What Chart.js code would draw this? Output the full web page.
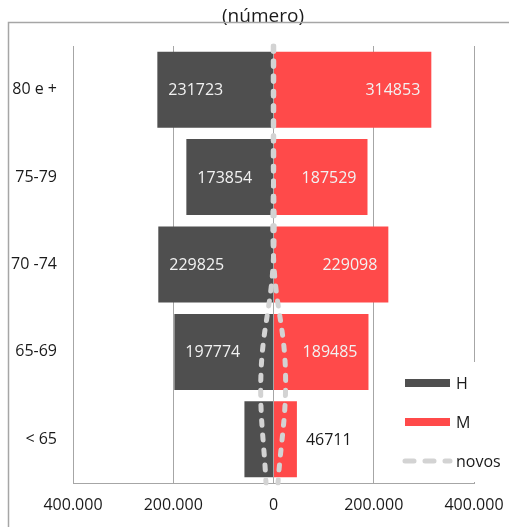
<!DOCTYPE html>
<html>
<head>
<meta charset="utf-8">
<script src="https://cdn.jsdelivr.net/npm/chart.js@4.4.1/dist/chart.umd.min.js"></script>
<style>
  html, body { margin: 0; padding: 0; background: #fff; overflow: hidden; }
  canvas { display: block; }
</style>
</head>
<body>
<canvas id="piramide" width="509" height="527"></canvas>
<script>
// Faixas etárias (de cima para baixo)
const ageGroups = ['80 e +', '75-79', '70 -74', '65-69', '< 65'];
// Homens (lado esquerdo, valores negativos) e mulheres (lado direito)
const homens   = [-231723, -173854, -229825, -197774, -58000];
const mulheres = [314853, 187529, 229098, 189485, 46711];
// Novos beneficiários, por sexo
const novosH = [-500, -500, -800, -25000, -15000];
const novosM = [500, 500, 800, 24000, 9000];
// Marcas do eixo horizontal
const xTicks = [-400000, -200000, 0, 200000, 400000];

const FONT = '"Open Sans", "Noto Sans", sans-serif';
const GRID = '#a6a6a6';
const COR_H = '#4f4f4f';
const COR_M = '#ff4a4a';
const COR_NOVOS = '#d3d3d3';

const fmt = n => String(Math.abs(n)).replace(/\B(?=(\d{3})+(?!\d))/g, '.');

// Moldura e título
const frame = {
  id: 'frame',
  beforeDraw(chart) {
    const ctx = chart.ctx;
    ctx.save();
    ctx.fillStyle = '#fff';
    ctx.fillRect(0, 0, chart.width, chart.height);
    ctx.fillStyle = '#1a1a1a';
    ctx.font = '19px ' + FONT;
    ctx.textAlign = 'center';
    ctx.textBaseline = 'alphabetic';
    ctx.fillText('(número)', 263, 22);
    ctx.strokeStyle = GRID;
    ctx.lineWidth = 1.5;
    ctx.beginPath();
    ctx.moveTo(8.5, chart.height);
    ctx.lineTo(8.5, 22.5);
    ctx.lineTo(chart.width, 22.5);
    ctx.stroke();
    ctx.restore();
  }
};

// Valores escritos nas barras
const valueLabels = {
  id: 'valueLabels',
  afterDatasetsDraw(chart) {
    const ctx = chart.ctx;
    ctx.save();
    ctx.font = '16px ' + FONT;
    ctx.textBaseline = 'middle';
    chart.data.datasets.forEach((ds, di) => {
      if (ds.type !== 'bar') return;
      const meta = chart.getDatasetMeta(di);
      meta.data.forEach((bar, i) => {
        const v = ds.data[i];
        const txt = String(Math.abs(v));
        const w = ctx.measureText(txt).width;
        const len = Math.abs(bar.x - bar.base);
        const dir = v < 0 ? -1 : 1;
        if (len >= w + 20) {
          ctx.fillStyle = '#f2f2f2';
          ctx.textAlign = dir < 0 ? 'left' : 'right';
          ctx.fillText(txt, bar.x - dir * 11, bar.y + 1);
        } else if (dir > 0) {
          ctx.fillStyle = '#1a1a1a';
          ctx.textAlign = 'left';
          ctx.fillText(txt, bar.x + 9, bar.y + 1);
        }
      });
    });
    ctx.restore();
  }
};

// Legenda no canto inferior direito
const legendBox = {
  id: 'legendBox',
  afterDraw(chart) {
    const ctx = chart.ctx;
    ctx.save();
    ctx.fillStyle = '#fff';
    ctx.fillRect(398, 362, 111, 120);
    ctx.font = '16px ' + FONT;
    ctx.textBaseline = 'middle';
    ctx.textAlign = 'left';
    let y = 383;
    chart.data.datasets.forEach(ds => {
      if (!ds.legend) return;
      if (ds.type === 'bar') {
        ctx.fillStyle = ds.backgroundColor;
        ctx.fillRect(405, y - 4, 45, 8);
      } else {
        ctx.strokeStyle = ds.borderColor;
        ctx.lineWidth = 5;
        ctx.lineCap = 'round';
        ctx.setLineDash([9, 11]);
        ctx.beginPath();
        ctx.moveTo(405, y);
        ctx.lineTo(450, y);
        ctx.stroke();
        ctx.setLineDash([]);
      }
      ctx.fillStyle = '#1a1a1a';
      ctx.fillText(ds.label, 456, y + 1);
      y += 39;
    });
    ctx.restore();
  }
};

const novosStyle = {
  type: 'line',
  indexAxis: 'y',
  yAxisID: 'yN',
  xAxisID: 'x',
  borderColor: COR_NOVOS,
  borderWidth: 5,
  borderDash: [5, 10],
  borderCapStyle: 'round',
  tension: 0.4,
  pointRadius: 0,
  fill: false,
  order: 0
};

new Chart(document.getElementById('piramide'), {
  data: {
    labels: ageGroups,
    datasets: [
      { type: 'bar', label: 'H', legend: true, data: homens, backgroundColor: COR_H,
        indexAxis: 'y', yAxisID: 'y', xAxisID: 'x', grouped: false,
        barPercentage: 0.87, categoryPercentage: 1, order: 1 },
      { type: 'bar', label: 'M', legend: true, data: mulheres, backgroundColor: COR_M,
        indexAxis: 'y', yAxisID: 'y', xAxisID: 'x', grouped: false,
        barPercentage: 0.87, categoryPercentage: 1, order: 1 },
      Object.assign({ label: 'novos', legend: true, data: novosH }, novosStyle),
      Object.assign({ label: 'novos M', legend: false, data: novosM }, novosStyle)
    ]
  },
  options: {
    indexAxis: 'y',
    responsive: false,
    animation: false,
    devicePixelRatio: 1,
    layout: { padding: { top: 46, right: 35, left: 0, bottom: 0 } },
    plugins: { legend: { display: false }, tooltip: { enabled: false }, title: { display: false } },
    scales: {
      x: {
        type: 'linear',
        min: -400000, max: 400000,
        afterBuildTicks: s => { s.ticks = xTicks.map(v => ({ value: v })); },
        afterFit: s => { s.height = 44; s.paddingLeft = 0; s.paddingRight = 0; },
        grid: { color: GRID, lineWidth: 1, drawTicks: false },
        border: { color: GRID, width: 1 },
        ticks: { padding: 13, color: '#1a1a1a', font: { family: FONT, size: 16 }, callback: v => fmt(v), maxRotation: 0 }
      },
      y: {
        type: 'category',
        afterFit: s => { s.width = 73; s.paddingTop = 0; s.paddingBottom = 0; },
        grid: { display: false, drawTicks: false },
        border: { color: GRID, width: 1 },
        ticks: { padding: 16, color: '#1a1a1a', font: { family: FONT, size: 16 } }
      },
      yN: {
        type: 'category',
        labels: ageGroups,
        offset: false,
        display: false
      }
    }
  },
  plugins: [frame, valueLabels, legendBox]
});
</script>
</body>
</html>
